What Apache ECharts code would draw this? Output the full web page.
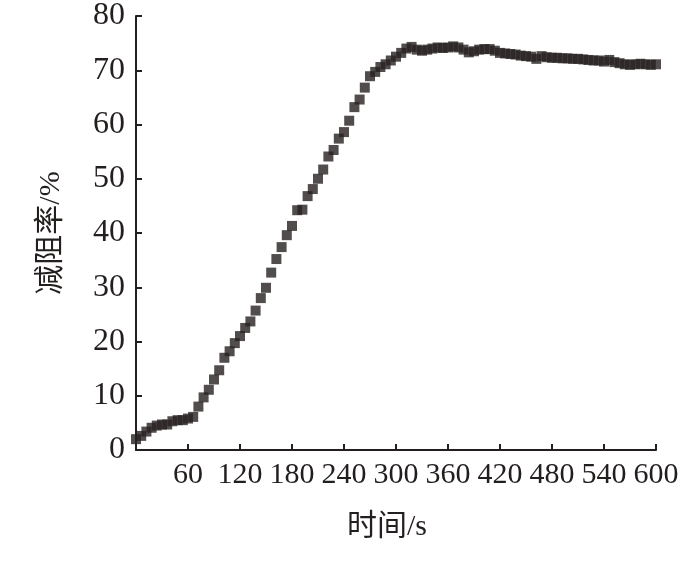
<!DOCTYPE html>
<html>
<head>
<meta charset="utf-8">
<script src="https://cdn.jsdelivr.net/npm/echarts@6/dist/echarts.min.js"></script>
<style>html,body{margin:0;padding:0;background:#fff;}#c{width:700px;height:563px;}</style>
</head>
<body>
<div id="c"></div>
<script>
// time (s), sampled every 6 s
var times = [];
for (var i = 0; i <= 100; i++) times.push(i * 6);
// drag reduction rate (%)
var dragReduction = [
  2.0, 2.6, 3.4, 4.1, 4.5, 4.7, 4.7, 5.3, 5.5, 5.5,
  5.8, 6.1, 8.0, 9.7, 11.1, 13.0, 14.7, 17.0, 18.2, 19.7,
  21.0, 22.5, 23.7, 25.7, 28.0, 29.9, 32.7, 35.2, 37.4, 39.6,
  41.3, 44.2, 44.3, 46.8, 48.1, 50.0, 51.7, 54.1, 55.3, 57.4,
  58.6, 60.7, 63.2, 64.6, 66.8, 68.9, 69.7, 70.6, 71.1, 71.8,
  72.5, 73.2, 74.0, 74.3, 73.8, 73.6, 73.8, 74.0, 74.2, 74.1,
  74.2, 74.4, 74.2, 73.8, 73.3, 73.5, 73.8, 73.9, 73.9, 73.6,
  73.2, 73.1, 73.0, 72.9, 72.7, 72.6, 72.5, 72.1, 72.6, 72.4,
  72.3, 72.3, 72.2, 72.2, 72.1, 72.1, 72.0, 71.9, 71.8, 71.8,
  71.6, 71.9, 71.5, 71.3, 71.1, 71.0, 71.1, 71.2, 71.1, 71.0,
  71.1
];
var xTitle = '时间/s';
var yTitle = '减阻率/%';

var points = times.map(function (t, i) { return [t, dragReduction[i]]; });
var font = '"Liberation Serif", "Times New Roman", "Noto Sans CJK SC", serif';
var ink = '#231f1e';

var chart = echarts.init(document.getElementById('c'));
chart.setOption({
  backgroundColor: '#ffffff',
  animation: false,
  grid: { left: 136, right: 44, top: 12, bottom: 113 },
  xAxis: {
    type: 'value', min: 0, max: 600, interval: 60,
    name: xTitle, nameLocation: 'middle', nameGap: 62,
    nameTextStyle: { fontFamily: font, fontSize: 30, color: ink, padding: [0, 18, 0, 0] },
    axisLine: { show: true, lineStyle: { color: ink, width: 2 } },
    axisTick: { show: true, inside: true, length: 6, lineStyle: { color: ink, width: 2 } },
    axisLabel: {
      fontFamily: font, fontSize: 30, color: ink, margin: 10,
      formatter: function (v) { return v === 0 ? '' : String(v); }
    },
    splitLine: { show: false }
  },
  yAxis: {
    type: 'value', min: 0, max: 80, interval: 10,
    name: yTitle, nameLocation: 'middle', nameGap: 70, nameRotate: 90,
    nameTextStyle: { fontFamily: font, fontSize: 30, color: ink },
    axisLine: { show: true, lineStyle: { color: ink, width: 2 } },
    axisTick: { show: true, inside: true, length: 6, lineStyle: { color: ink, width: 2 } },
    axisLabel: { fontFamily: font, fontSize: 32, color: ink, margin: 11 },
    splitLine: { show: false }
  },
  series: [{
    type: 'scatter',
    data: points,
    symbol: 'rect',
    symbolSize: 10,
    clip: false,
    itemStyle: { color: '#272120' }
  }]
});
</script>
</body>
</html>
